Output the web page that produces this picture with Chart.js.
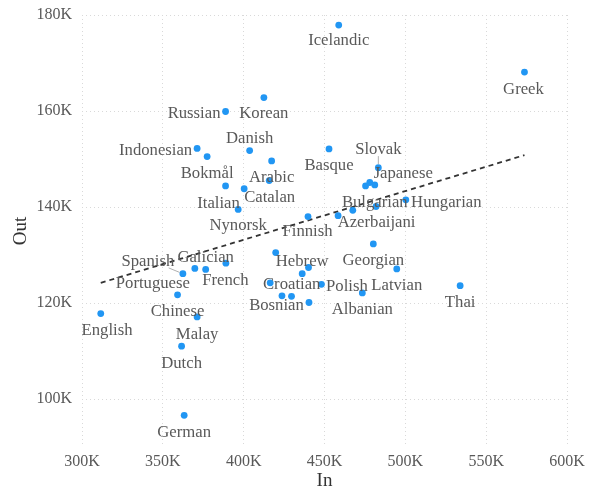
<!DOCTYPE html>
<html>
<head>
<meta charset="utf-8">
<title>In vs Out</title>
<script src="https://cdn.jsdelivr.net/npm/chart.js@4.4.1/dist/chart.umd.min.js"></script>
<style>
  html, body { margin: 0; padding: 0; background: #fff; }
  #wrap { width: 596px; height: 493px; }
</style>
</head>
<body>
<div id="wrap"><canvas id="scatterChart"></canvas></div>
<script>
// values in thousands; '' = point drawn without a label
const languages = [
  'Icelandic', 'Greek', 'Korean', 'Russian', 'Indonesian', 'Danish', 'Bokmål', 'Arabic', '',
  'Italian', 'Catalan', 'Nynorsk', 'Basque', 'Slovak', '', '', 'Japanese', 'Azerbaijani',
  'Hungarian', 'Bulgarian', '', 'Finnish', 'Georgian', 'Hebrew', '', 'Croatian', '',
  'Polish', 'Bosnian', '', '', 'Latvian', 'Albanian', 'Thai', 'French', 'Galician',
  'Portuguese', 'Spanish', 'Chinese', 'English', 'Malay', 'Dutch', 'German'
];
const inK = [
  458.8, 573.7, 412.5, 388.8, 371.2, 403.7, 377.4, 417.3, 415.8,
  388.8, 400.3, 396.6, 452.8, 483.3, 475.4, 478.0, 481.1, 481.9,
  500.3, 467.5, 458.4, 439.8, 480.2, 419.8, 440.1, 436.2, 416.4,
  448.1, 423.7, 429.6, 440.4, 494.7, 473.4, 533.9, 389.0, 376.5,
  369.8, 362.4, 359.1, 311.6, 371.2, 361.6, 363.2
];
const outK = [
  177.9, 168.1, 162.8, 159.9, 152.2, 151.75, 150.5, 149.6, 145.5,
  144.4, 143.8, 139.5, 152.1, 148.2, 144.4, 145.1, 144.6, 140.1,
  141.5, 139.3, 138.2, 138.0, 132.3, 130.5, 127.4, 126.1, 124.2,
  123.9, 121.5, 121.4, 120.1, 127.1, 122.1, 123.6, 128.3, 127.0,
  127.2, 126.1, 121.7, 117.8, 117.1, 111.0, 96.6
];
// dashed linear trend, end points
const trendIn = [311.6, 573.7];
const trendOut = [124.2, 150.8];

const xTicks = [300, 350, 400, 450, 500, 550, 600];
const yTicks = [100, 120, 140, 160, 180];

// where each label sits relative to its dot (px)
const labelOffsets = {
  Icelandic: [0, 14], Greek: [-1, 15], Korean: [0, 14], Russian: [-31.5, 0],
  Indonesian: [-41.5, 0], Danish: [0, -14], 'Bokmål': [0, 15], Arabic: [0, 15],
  Italian: [-7, 15.5], Catalan: [25.5, 7], Nynorsk: [0, 14.5], Basque: [0, 15],
  Slovak: [0, -20], Japanese: [28.5, -13.5], Bulgarian: [22, -10], Azerbaijani: [0.5, 14.5],
  Hungarian: [40.5, 0.5], Finnish: [-0.5, 13.5], Georgian: [0, 14.5], Hebrew: [26.5, 7],
  Croatian: [-10.5, 9], Polish: [25.5, 0], Bosnian: [-5.5, 8], Latvian: [0, 14.2],
  Albanian: [0, 15], Thai: [0, 15], French: [-0.5, 15], Galician: [0, -13.5],
  Portuguese: [-42, 12.7], Spanish: [-35, -14.3], Chinese: [0, 14.5], English: [6.3, 15],
  Malay: [0, 15.2], Dutch: [0, 15], German: [0, 15]
};
const withLeader = ['Slovak', 'Spanish'];

const serif = '"Liberation Serif", "Times New Roman", serif';

const pointLabels = {
  id: 'pointLabels',
  afterDatasetsDraw(chart) {
    const ctx = chart.ctx;
    const meta = chart.getDatasetMeta(0);
    ctx.save();
    ctx.font = '16.7px ' + serif;
    ctx.textAlign = 'center';
    ctx.textBaseline = 'middle';
    meta.data.forEach((pt, i) => {
      const name = languages[i];
      if (!name) return;
      const off = labelOffsets[name];
      const cx = pt.x + off[0];
      const cy = pt.y + off[1];
      if (withLeader.includes(name)) {
        const w = ctx.measureText(name).width / 2;
        const h = 8.5;
        const dx = pt.x - cx, dy = pt.y - cy;
        const len = Math.hypot(dx, dy);
        const t = Math.min(w / Math.abs(dx || 1e-6), h / Math.abs(dy || 1e-6));
        ctx.strokeStyle = '#9a9a9a';
        ctx.lineWidth = 0.8;
        ctx.beginPath();
        ctx.moveTo(cx + dx * t, cy + dy * t);
        ctx.lineTo(pt.x - dx / len * 3.5, pt.y - dy / len * 3.5);
        ctx.stroke();
      }
      ctx.fillStyle = '#595959';
      // +2: 'middle' sits a little above the glyphs' visual centre
      ctx.fillText(name, cx, cy + 2);
    });
    ctx.restore();
  }
};

const ctx = document.getElementById('scatterChart').getContext('2d');

new Chart(ctx, {
  type: 'scatter',
  data: {
    datasets: [{
      data: inK.map((v, i) => ({ x: v, y: outK[i] })),
      backgroundColor: '#2196f3',
      borderWidth: 0,
      pointRadius: 3.4,
      pointHoverRadius: 3.4
    }, {
      type: 'line',
      data: trendIn.map((v, i) => ({ x: v, y: trendOut[i] })),
      borderColor: '#333333',
      borderWidth: 1.8,
      borderDash: [5, 4],
      pointRadius: 0,
      fill: false
    }]
  },
  options: {
    responsive: true,
    maintainAspectRatio: false,
    animation: false,
    layout: { padding: { top: 15, right: 29, left: 0, bottom: 0 } },
    plugins: {
      legend: { display: false },
      tooltip: { enabled: false }
    },
    scales: {
      x: {
        type: 'linear',
        min: 300,
        max: 600,
        afterBuildTicks: scale => { scale.ticks = xTicks.map(v => ({ value: v })); },
        afterFit: scale => { scale.height = 46; },
        grid: { color: '#d9d9d9', drawTicks: false, lineWidth: 1 },
        border: { display: false, dash: [1, 3] },
        ticks: {
          padding: 5,
          color: '#595959',
          font: { family: serif, size: 16 },
          callback: v => v + 'K'
        },
        title: {
          display: true,
          text: 'In',
          color: '#333333',
          font: { family: serif, size: 19 },
          padding: { top: 0, bottom: 1 }
        }
      },
      y: {
        min: 90,
        max: 180,
        afterBuildTicks: scale => { scale.ticks = yTicks.map(v => ({ value: v })); },
        afterFit: scale => {
          scale.width = 82;
          // the tick padding is horizontal only; don't let it push the plot down
          scale.paddingTop = 8;
          scale.paddingBottom = 8;
        },
        grid: { color: '#d9d9d9', drawTicks: false, lineWidth: 1 },
        border: { display: false, dash: [1, 3] },
        ticks: {
          padding: 10,
          color: '#595959',
          font: { family: serif, size: 16 },
          callback: v => v + 'K'
        },
        title: {
          display: true,
          text: 'Out',
          color: '#333333',
          font: { family: serif, size: 19 },
          padding: { top: 10, bottom: 0 }
        }
      }
    }
  },
  plugins: [pointLabels]
});
</script>
</body>
</html>
